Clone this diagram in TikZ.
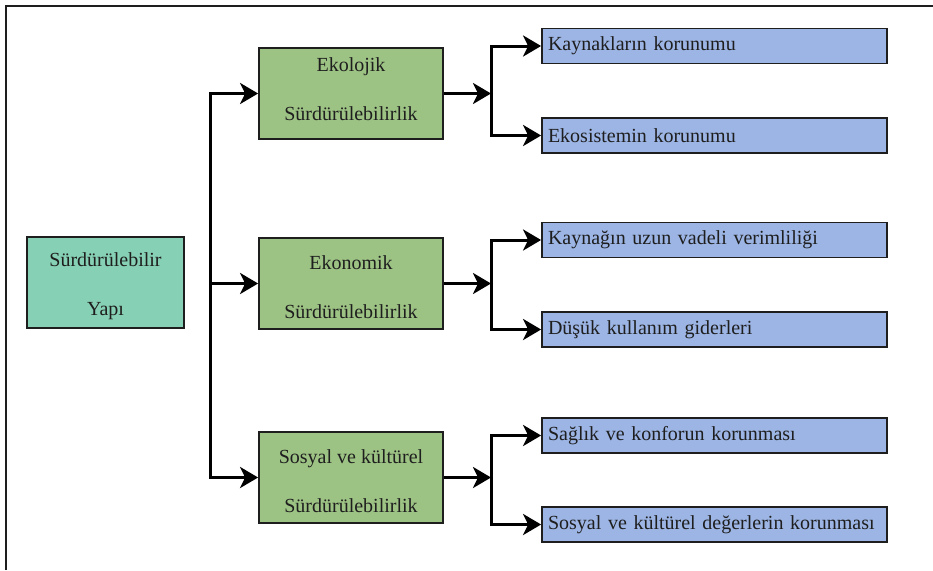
\documentclass[tikz,border=0pt]{standalone}
\usepackage{fontspec}
\setmainfont{Liberation Serif}
\usetikzlibrary{arrows.meta}

\definecolor{rootfill}{HTML}{86D0B5}
\definecolor{pillarfill}{HTML}{9DC384}
\definecolor{goalfill}{HTML}{9CB5E4}
\definecolor{inkline}{HTML}{1E1E1E}

% keeps the first line of a two-line box a little lower
\newcommand{\firstline}{\rule{0pt}{22pt}}

\begin{document}
\begin{tikzpicture}[x=1pt,y=-1pt]
    \tikzstyle{every node}=[font=\fontsize{20}{49}\selectfont, text=inkline]
    \tikzstyle{box}=[draw=inkline, line width=1.8pt, inner sep=0pt]
    \tikzstyle{rootbox}=[box, align=center, fill=rootfill, minimum width=157pt, minimum height=91pt]
    \tikzstyle{pillarbox}=[box, align=center, fill=pillarfill, minimum width=184pt, minimum height=91pt]
    \tikzstyle{goalbox}=[box, fill=goalfill, minimum height=35pt, text width=333pt, inner xsep=6pt, align=left]
    \tikzstyle{flow}=[line width=3pt, black, -{Stealth[length=18pt,width=21pt,inset=5pt]}]

    \useasboundingbox (0,0) rectangle (933,570);
    \draw[line width=2pt, inkline] (6,570) -- (6,6) -- (933,6);

    \node[rootbox] (root) at (105.5,282.5) {\firstline Sürdürülebilir\\Yapı};

    \node[pillarbox] (eco) at (351,93.5) {\firstline Ekolojik\\Sürdürülebilirlik\rule[-18pt]{0pt}{0pt}};
    \node[pillarbox] (econ) at (351,283.5) {\firstline Ekonomik\\Sürdürülebilirlik};
    \node[pillarbox] (soc) at (351,477.5) {\firstline Sosyal ve kültürel\\Sürdürülebilirlik};

    \node[goalbox] (g1) at (714.5,46) {Kaynakların korunumu};
    \node[goalbox] (g2) at (714.5,135.5) {Ekosistemin korunumu};
    \node[goalbox] (g3) at (714.5,240) {Kaynağın uzun vadeli verimliliği};
    \node[goalbox] (g4) at (714.5,329.5) {Düşük kullanım giderleri};
    \node[goalbox] (g5) at (714.5,435.5) {Sağlık ve konforun korunması};
    \node[goalbox] (g6) at (714.5,524.5) {Sosyal ve kültürel değerlerin korunması};

    \coordinate (trunk) at (210,0);
    \coordinate (fork) at (491,0);

    \draw[flow] (root.east -| trunk) |- (eco.west);
    \draw[flow] (root.east -| trunk) |- (econ.west);
    \draw[flow] (root.east -| trunk) |- (soc.west);

    \draw[flow] (eco.east) -- (eco.east -| fork);
    \draw[flow] (eco.east -| fork) |- (g1.west);
    \draw[flow] (eco.east -| fork) |- (g2.west);

    \draw[flow] (econ.east) -- (econ.east -| fork);
    \draw[flow] (econ.east -| fork) |- (g3.west);
    \draw[flow] (econ.east -| fork) |- (g4.west);

    \draw[flow] (soc.east) -- (soc.east -| fork);
    \draw[flow] (soc.east -| fork) |- (g5.west);
    \draw[flow] (soc.east -| fork) |- (g6.west);

\end{tikzpicture}
\end{document}
